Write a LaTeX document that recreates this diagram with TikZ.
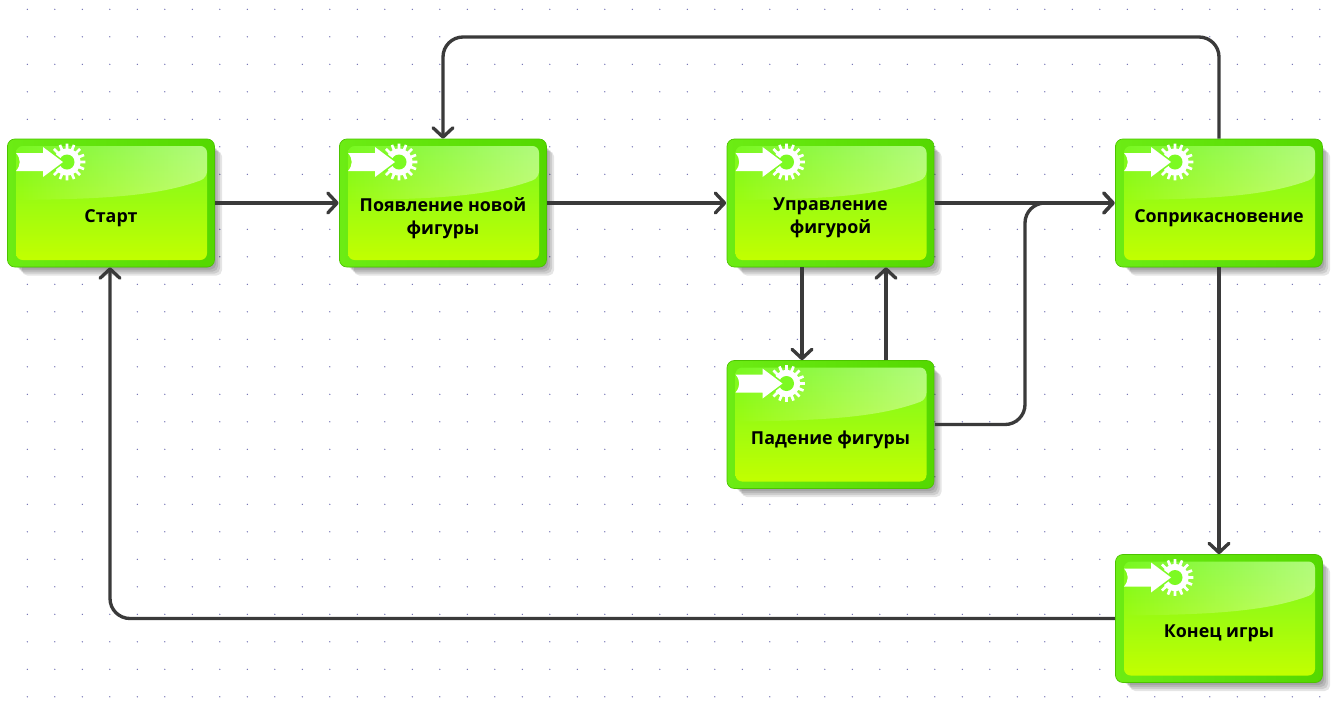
\documentclass[tikz,border=0pt]{standalone}
\usepackage{fontspec}
\setmainfont{Open Sans}
\usetikzlibrary{arrows.meta,fadings,calc}
\definecolor{edgeleft}{HTML}{6CEC14}
\definecolor{edgeright}{HTML}{54D800}
\definecolor{edgeline}{HTML}{4CC400}
\definecolor{topgreen}{HTML}{78F820}
\definecolor{midgreen}{HTML}{9CFF1A}
\definecolor{botgreen}{HTML}{C2FF00}
\definecolor{holegreen}{HTML}{7CFA22}
\definecolor{linegray}{HTML}{3A3A3A}
\definecolor{dotblue}{HTML}{6A6AB0}
\tikzset{
  x=0.75pt,y=-0.75pt,
  griddot/.style={fill=dotblue,draw=none,circle,inner sep=0pt,minimum size=1.1pt},
  boxbody/.style={draw=none,fill=none,minimum width=156pt,minimum height=96pt,inner sep=0pt},
  boxlabel/.style={draw=none,fill=none,inner sep=0pt,align=center,font=\fontsize{13.4pt}{17.2pt}\selectfont\bfseries,text=black},
  conn/.style={draw=linegray,line width=2.5pt,rounded corners=15pt,-{Straight Barb[length=7pt,width=15pt,line width=2.5pt,round]}},
}
\newcommand{\taskbox}[4]{%
  \begin{scope}[shift={(#2,#3)}]
    % soft shadow
    \foreach \g in {11,9,7,5,3}{
      \fill[black,opacity=0.1,rounded corners=4pt] (-100+\g,-63+\g) rectangle (100+\g,61.5+\g);
    }
    % body
    \shade[left color=edgeleft,right color=edgeright,rounded corners=5.5pt,draw=edgeline,line width=0.5pt] (-103.5,-64) rectangle (103.5,64);
    \shade[top color=topgreen,middle color=midgreen,bottom color=botgreen,rounded corners=5pt] (-95,-57) rectangle (96,57);
    % gloss
    \fill[white,path fading=west,opacity=0.42,rounded corners=5pt] (-95,-57) -- (96,-57) -- (96,-25) .. controls (50,-8) and (0,-4) .. (-95,-3) -- cycle;
    % gear
    \fill[white] (-44,-41) circle (13.5);
    \foreach \a in {0,22.5,...,337.5}{
      \fill[white] ($(-44,-41)+(\a-7:12)$) -- ($(-44,-41)+(\a-4:18.5)$) -- ($(-44,-41)+(\a+4:18.5)$) -- ($(-44,-41)+(\a+7:12)$) -- cycle;
    }
    \fill[holegreen] (-44,-41) circle (7.5);
    % arrow
    \begin{scope}
      \clip (-44,-41) circle (19);
      \draw[holegreen,line width=2.2pt] (-70,-58) -- (-48,-41) -- (-70,-24);
    \end{scope}
    \fill[white] (-95,-50) -- (-68,-50) -- (-68,-56) -- (-48,-41) -- (-68,-26) -- (-68,-32) -- (-95,-32) .. controls (-90,-38) and (-90,-44) .. (-95,-50) -- cycle;
    \node[boxbody] (#1) at (0,0) {};
    \node[boxlabel] (#1-text) at (0,15) {#4};
  \end{scope}
}
\begin{document}
\begin{tikzpicture}
\useasboundingbox (0,0) rectangle (1334,704);
\fill[white] (0,0) rectangle (1334,704);
\foreach \i in {0,...,47}{
  \foreach \j in {0,...,25}{
    \node[griddot] (dot-\i-\j) at ({27.3+27.5*\i},{9.3+27.5*\j}) {};
  }
}
\taskbox{start}{111}{203}{Старт}
\taskbox{newfig}{443}{203}{Появление новой\\фигуры}
\taskbox{control}{830.5}{203}{Управление\\фигурой}
\taskbox{contact}{1219}{203}{Соприкасновение}
\taskbox{fall}{830.5}{424.5}{Падение фигуры}
\taskbox{over}{1219}{618.5}{Конец игры}

\coordinate (topleft) at (443,37);
\coordinate (topright) at (1219,37);
\coordinate (fallbend) at (1025,424.5);
\coordinate (joinbend) at (1025,203);
\coordinate (overbend) at (110,618.5);

\draw[conn] (start.east) -- (newfig.west);
\draw[conn] (newfig.east) -- (control.west);
\draw[conn] (control.east) -- (contact.west);
\draw[conn] (contact.north) -- (topright) -- (topleft) -- (newfig.north);
\draw[conn] ([xshift=-21.4pt]control.south) -- ([xshift=-21.4pt]fall.north);
\draw[conn] ([xshift=41.6pt]fall.north) -- ([xshift=41.6pt]control.south);
\draw[conn] (fall.east) -- (fallbend) -- (joinbend) -- (contact.west);
\draw[conn] (contact.south) -- (over.north);
\draw[conn] (over.west) -- (overbend) -- ([xshift=-0.75pt]start.south);
\end{tikzpicture}
\end{document}
